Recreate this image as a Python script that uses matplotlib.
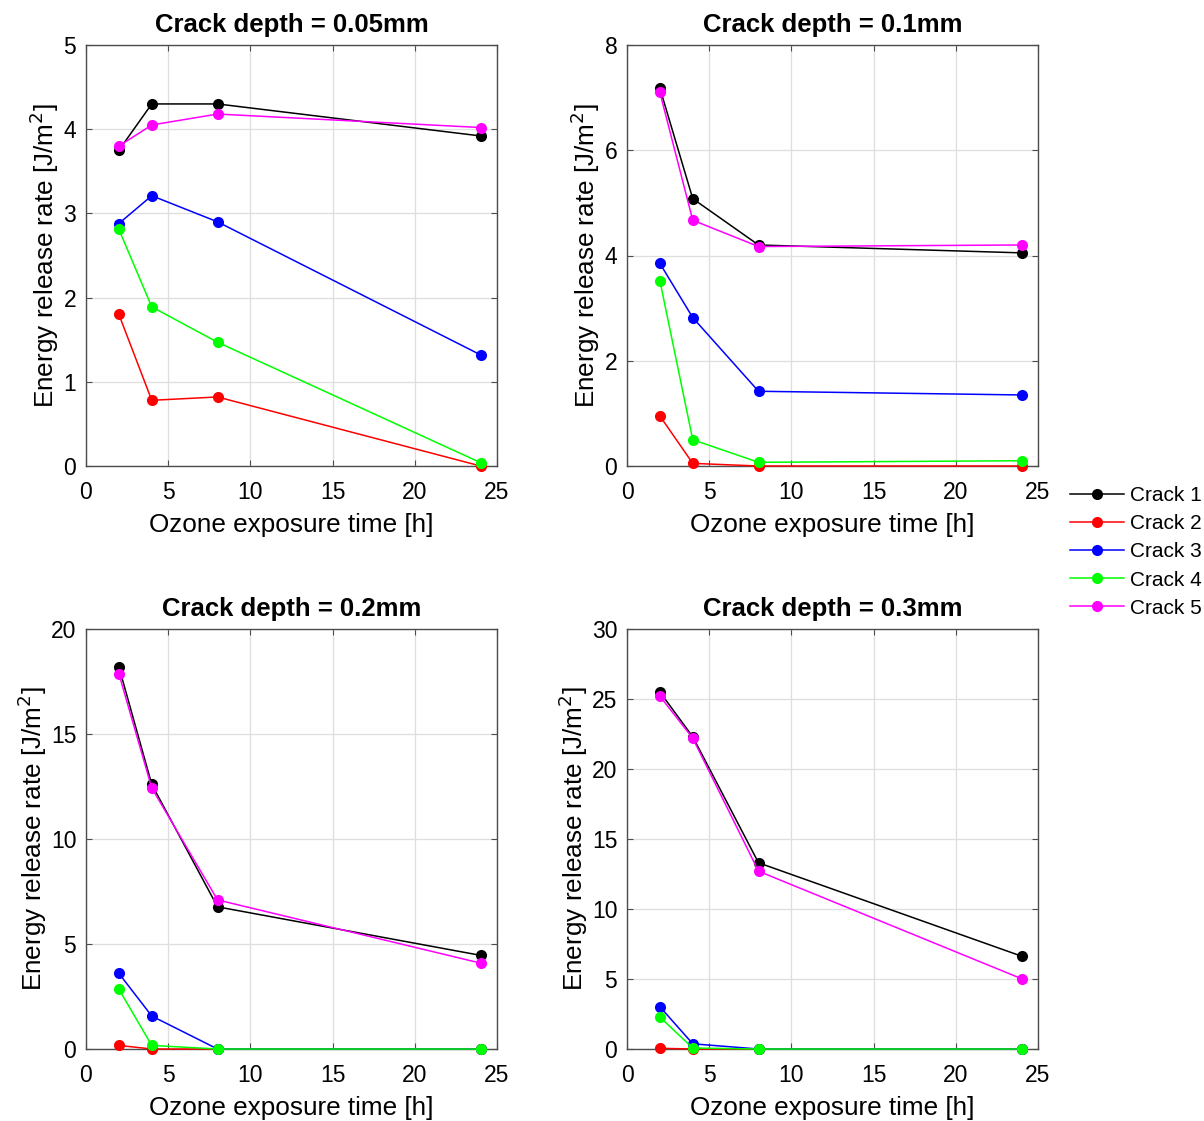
import matplotlib
matplotlib.use("Agg")
import matplotlib.pyplot as plt

plt.rcParams["font.family"] = ["Liberation Sans", "DejaVu Sans"]

# Ozone exposure times [h]
exposure_h = [2, 4, 8, 24]

crack_labels = ["Crack 1", "Crack 2", "Crack 3", "Crack 4", "Crack 5"]
crack_colors = ["#000000", "#ff0000", "#0000ff", "#00ff00", "#ff00ff"]

depth_titles = ["Crack depth = 0.05mm", "Crack depth = 0.1mm",
                "Crack depth = 0.2mm", "Crack depth = 0.3mm"]
y_limits = [5, 8, 20, 30]
y_steps = [1, 2, 5, 5]

# Energy release rate [J/m^2] per crack, one list per crack depth
depth_005 = [
    [3.75, 4.30, 4.30, 3.92],
    [1.80, 0.78, 0.82, 0.00],
    [2.88, 3.21, 2.90, 1.32],
    [2.81, 1.89, 1.47, 0.04],
    [3.80, 4.05, 4.18, 4.02],
]
depth_010 = [
    [7.18, 5.08, 4.20, 4.05],
    [0.95, 0.05, 0.00, 0.00],
    [3.85, 2.82, 1.42, 1.35],
    [3.52, 0.50, 0.07, 0.10],
    [7.10, 4.67, 4.17, 4.20],
]
depth_020 = [
    [18.20, 12.60, 6.77, 4.46],
    [0.17, 0.00, 0.00, 0.00],
    [3.60, 1.57, 0.00, 0.00],
    [2.85, 0.17, 0.00, 0.00],
    [17.87, 12.43, 7.10, 4.09],
]
depth_030 = [
    [25.50, 22.30, 13.30, 6.63],
    [0.05, 0.00, 0.00, 0.00],
    [3.02, 0.37, 0.00, 0.00],
    [2.28, 0.07, 0.00, 0.00],
    [25.20, 22.20, 12.70, 5.02],
]
all_depths = [depth_005, depth_010, depth_020, depth_030]

W, H = 1204, 1121
fig = plt.figure(figsize=(W / 100, H / 100), dpi=100)

# axes boxes in pixels: (left, top, right, bottom)
boxes = [(86, 45, 497, 466), (627, 45, 1038, 466),
         (86, 629, 497, 1049), (627, 629, 1038, 1049)]

axis_grey = "#4d4d4d"
handles = None
for box, title, ymax, ystep, series in zip(boxes, depth_titles, y_limits, y_steps, all_depths):
    l, t, r, b = box
    ax = fig.add_axes([l / W, 1 - b / H, (r - l) / W, (b - t) / H])
    lines = []
    for vals, col, lab in zip(series, crack_colors, crack_labels):
        ln, = ax.plot(exposure_h, vals, color=col, lw=1.1, marker="o",
                      markersize=8, markeredgewidth=0, label=lab, clip_on=False,
                      zorder=3)
        lines.append(ln)
    handles = lines
    ax.set_xlim(0, 25)
    ax.set_ylim(0, ymax)
    ax.set_xticks(range(0, 26, 5))
    ax.set_yticks(range(0, ymax + 1, ystep))
    ax.grid(True, color="#dedede", lw=0.9)
    ax.set_axisbelow(True)
    for sp in ax.spines.values():
        sp.set_color(axis_grey)
        sp.set_linewidth(1.0)
    ax.tick_params(direction="in", length=4, width=0.8, color=axis_grey,
                   labelsize=16.5, top=True, right=True)
    ax.tick_params(axis="x", pad=11)
    ax.tick_params(axis="y", pad=7)
    ax.set_title(title, fontsize=18.5, fontweight="bold", pad=9.5)
    ax.set_xlabel("Ozone exposure time [h]", fontsize=18.8, labelpad=6)
    ax.set_ylabel("Energy release rate [J/m$^2$]", fontsize=18.8, labelpad=1.5)

fig.legend(handles=handles, labels=crack_labels, loc="upper left",
           bbox_to_anchor=(1070 / W, 1 - 486 / H), frameon=False,
           fontsize=15, handlelength=2.6, handletextpad=0.3,
           labelspacing=0.44, borderaxespad=0, borderpad=0)

fig.savefig("out.png", dpi=100)
